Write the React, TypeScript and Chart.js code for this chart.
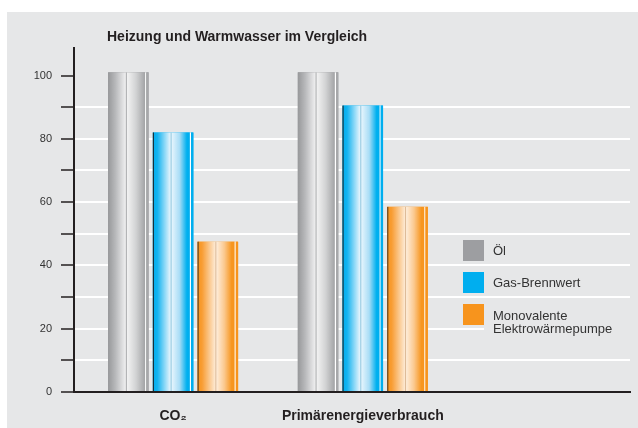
import React, { useEffect, useRef } from 'react';
import { Chart, registerables } from 'chart.js';

Chart.register(...registerables);

const TITLE = 'Heizung und Warmwasser im Vergleich';
const CATEGORIES = ['CO₂', 'Primärenergieverbrauch'];
const SERIES_LABELS = ['Öl', 'Gas-Brennwert', 'Monovalente\nElektrowärmepumpe'];
const OEL = [101, 101];
const GAS = [82, 90.5];
const WAERMEPUMPE = [47.5, 58.5];
const Y_TICKS = [0, 10, 20, 30, 40, 50, 60, 70, 80, 90, 100];
const Y_LABELED = [0, 20, 40, 60, 80, 100];

const FONT = "'Liberation Sans', Arial, sans-serif";
const BG = '#e6e7e8';
const INK = '#231f20';
const SWATCH = ['#9d9ea1', '#00aeef', '#f7941d'];

type Shade = { edge: string | null; stops: [number, string][]; line: string; strip: string };
const SHADES: Shade[] = [
  {
    edge: null,
    stops: [[0, '#97989a'], [0.2, '#b8b9bb'], [0.46, '#ececed'], [0.5, '#f4f4f4'], [0.75, '#d2d3d4'], [1, '#a2a3a5']],
    line: '#a9aaac',
    strip: '#a7a8aa',
  },
  {
    edge: '#1d1d1b',
    stops: [[0, '#00aeef'], [0.12, '#12b3f0'], [0.46, '#dff2fc'], [0.5, '#e9f6fd'], [0.72, '#a9ddf6'], [0.92, '#00b0ef'], [1, '#00aeef']],
    line: '#8fc6de',
    strip: '#00aeef',
  },
  {
    edge: '#4a3520',
    stops: [[0, '#f7941d'], [0.12, '#f89d34'], [0.46, '#fde6cc'], [0.5, '#feefdf'], [0.72, '#fbc98f'], [0.92, '#f7961f'], [1, '#f7941d']],
    line: '#dcb995',
    strip: '#f7941d',
  },
];

const barShade = {
  id: 'barShade',
  afterDatasetsDraw(chart: any) {
    const ctx = chart.ctx as CanvasRenderingContext2D;
    chart.data.datasets.forEach((_ds: any, di: number) => {
      const meta = chart.getDatasetMeta(di);
      if (meta.hidden) return;
      const s = SHADES[di];
      meta.data.forEach((el: any) => {
        const { x, y, base, width } = el.getProps(['x', 'y', 'base', 'width'], true);
        const left = x - width / 2;
        const right = x + width / 2;
        const top = Math.min(y, base);
        const h = Math.abs(base - y);
        const mainR = right - 3.5;
        const g = ctx.createLinearGradient(left, 0, mainR, 0);
        s.stops.forEach(([o, c]) => g.addColorStop(o, c));
        ctx.save();
        ctx.fillStyle = g;
        ctx.fillRect(left, top, mainR - left, h);
        const mid = left + (mainR - left) * 0.48;
        ctx.fillStyle = s.line;
        ctx.fillRect(mid, top, 1, h);
        ctx.fillStyle = '#ffffff';
        ctx.fillRect(mainR, top, 1.2, h);
        ctx.fillStyle = s.strip;
        ctx.fillRect(mainR + 1.2, top, right - mainR - 1.2, h);
        if (s.edge) {
          ctx.fillStyle = s.edge;
          ctx.fillRect(left, top, 1, h);
        }
        ctx.restore();
      });
    });
  },
};

const titleAndLegend = {
  id: 'titleAndLegend',
  afterDraw(chart: any) {
    const ctx = chart.ctx as CanvasRenderingContext2D;
    const area = chart.chartArea;
    ctx.save();
    ctx.font = `bold 14px ${FONT}`;
    ctx.fillStyle = INK;
    ctx.textAlign = 'left';
    ctx.textBaseline = 'alphabetic';
    ctx.fillText(TITLE, area.left + 33, area.top - 7.3);

    const sx = area.left + 389;
    const size = 21;
    const step = 32;
    let sy = area.top + 192;
    ctx.font = `13px ${FONT}`;
    chart.data.datasets.forEach((ds: any) => {
      const lines = String(ds.label).split('\n');
      const lineH = 13.3;
      const firstBase = lines.length > 1 ? sy + 16 : sy + 15;
      const bottom = Math.max(sy + size, firstBase + (lines.length - 1) * lineH + 3.5);
      ctx.fillStyle = BG;
      ctx.fillRect(sx + size, sy, area.right - sx - size, bottom - sy);
      ctx.fillStyle = ds.backgroundColor;
      ctx.fillRect(sx, sy, size, size);
      ctx.fillStyle = '#333333';
      lines.forEach((t, li) => ctx.fillText(t, sx + 30, firstBase + li * lineH));
      sy += step;
    });
    ctx.restore();
  },
};

export default function App() {
  const ref = useRef<HTMLCanvasElement | null>(null);

  useEffect(() => {
    if (!ref.current) return;
    const series = [OEL, GAS, WAERMEPUMPE];
    const chart = new Chart(ref.current, {
      type: 'bar',
      data: {
        datasets: series.map((vals, di) => ({
          label: SERIES_LABELS[di],
          data: vals.map((v, i) => ({ x: i, y: v })),
          backgroundColor: SWATCH[di],
          borderWidth: 0,
          categoryPercentage: 0.7077,
          barPercentage: 0.905,
        })),
      },
      options: {
        responsive: false,
        animation: false,
        events: [],
        layout: { padding: { top: 36, right: 8, left: 0, bottom: 0 } },
        plugins: {
          legend: { display: false },
          title: { display: false },
          tooltip: { enabled: false },
        },
        scales: {
          x: {
            type: 'linear',
            offset: false,
            min: -0.5224,
            max: 2.4085,
            bounds: 'data',
            afterBuildTicks: (s: any) => {
              s.ticks = CATEGORIES.map((_c, i) => ({ value: i }));
            },
            afterFit: (s: any) => {
              s.height = 36;
            },
            grid: { display: false, drawTicks: false, offset: false },
            border: { display: true, color: INK, width: 2, z: 1 },
            ticks: {
              autoSkip: false,
              maxRotation: 0,
              padding: 16,
              color: INK,
              font: { family: FONT, size: 14, weight: 'bold' },
              callback: (v: any) => (Number.isInteger(v) && CATEGORIES[v] !== undefined ? CATEGORIES[v] : ''),
            },
          },
          y: {
            type: 'linear',
            min: 0,
            max: 108.7,
            afterBuildTicks: (s: any) => {
              s.ticks = Y_TICKS.map((v) => ({ value: v }));
            },
            afterFit: (s: any) => {
              s.width = 67;
            },
            grid: {
              color: (c: any) => (c.tick && c.tick.value > 0 && c.tick.value < 100 ? '#ffffff' : 'rgba(0,0,0,0)'),
              lineWidth: 2,
              drawTicks: true,
              tickLength: 13,
              tickColor: INK,
              tickWidth: 1.5,
            },
            border: { display: true, color: INK, width: 2, z: 1 },
            ticks: {
              padding: 9,
              color: '#333333',
              font: { family: FONT, size: 11 },
              callback: (v: any) => (Y_LABELED.includes(v) ? String(v) : ''),
            },
          },
        },
      } as any,
      plugins: [barShade, titleAndLegend],
    });
    return () => chart.destroy();
  }, []);

  return (
    <div style={{ position: 'absolute', left: 0, top: 0, width: 638, height: 428, background: '#ffffff', overflow: 'hidden' }}>
      <div style={{ position: 'absolute', left: 7, top: 12, width: 631, height: 416, background: BG }}>
        <canvas ref={ref} width={631} height={416} style={{ display: 'block' }} />
      </div>
    </div>
  );
}
